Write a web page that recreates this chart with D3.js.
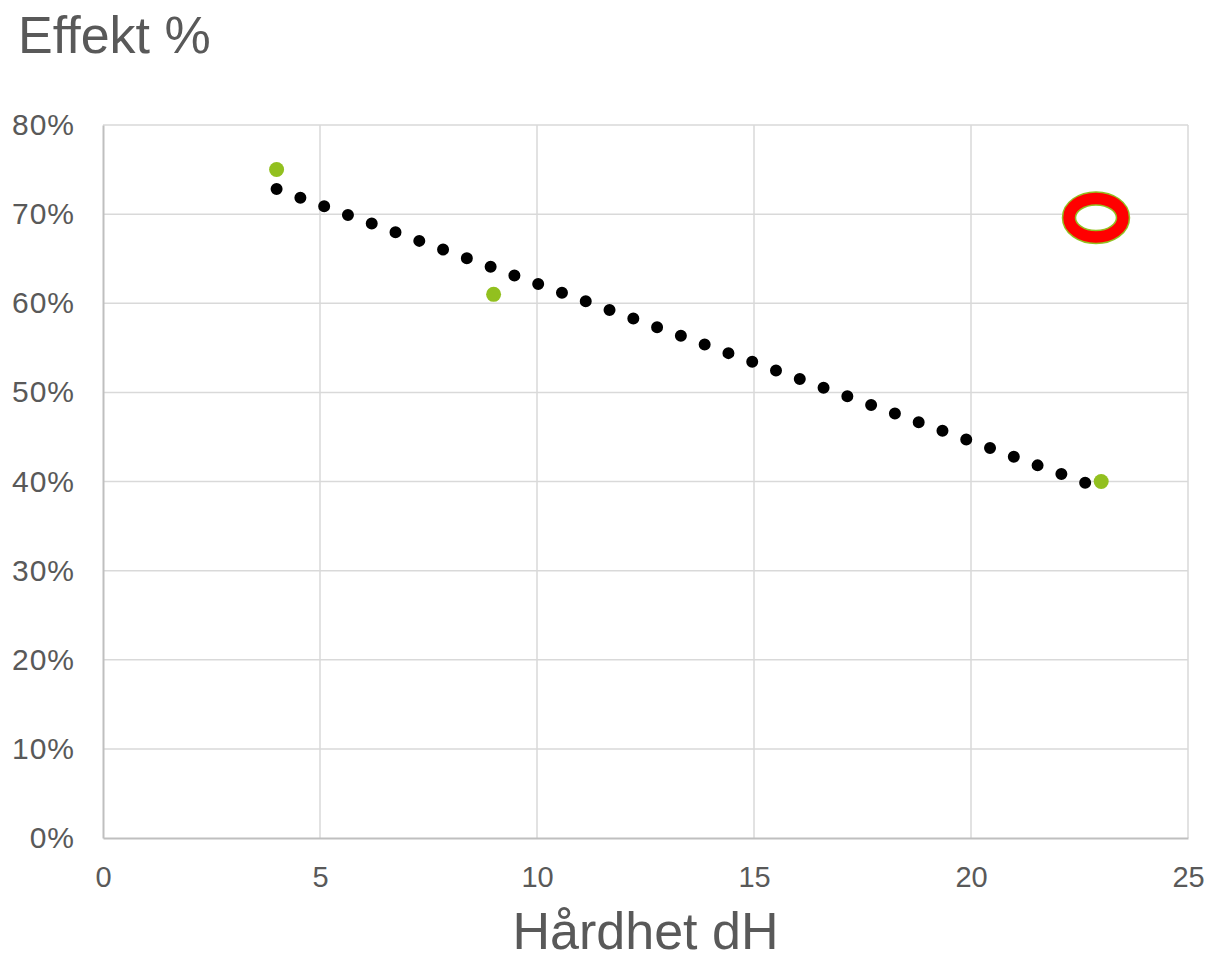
<!DOCTYPE html>
<html>
<head>
<meta charset="utf-8">
<script src="https://cdn.jsdelivr.net/npm/d3@7"></script>
<style>
  body { margin: 0; background: #fff; }
  text { font-family: "Liberation Sans", Arial, sans-serif; fill: #595959; }
</style>
</head>
<body>
<svg id="chart" width="1211" height="957"></svg>
<script>
// data
let hardness = [4, 9, 23];
let effect = [0.75, 0.61, 0.40];
let xTicks = [0, 5, 10, 15, 20, 25];
let yTicks = [0, 0.1, 0.2, 0.3, 0.4, 0.5, 0.6, 0.7, 0.8];
let marker = [22.88, 0.696]; // red ring annotation

let svg = d3.select('#chart');
let x = d3.scaleLinear().domain([0, 25]).range([103, 1188]);
let y = d3.scaleLinear().domain([0, 0.8]).range([838, 125]);

// gridlines
svg.append('g')
    .selectAll('line')
    .data(yTicks.filter(d => d > 0))
    .join('line')
    .attr('x1', x(0)).attr('x2', x(25))
    .attr('y1', d => y(d)).attr('y2', d => y(d))
    .attr('stroke', '#d9d9d9').attr('stroke-width', 1.5);
svg.append('g')
    .selectAll('line')
    .data(xTicks.filter(d => d > 0))
    .join('line')
    .attr('x1', d => x(d)).attr('x2', d => x(d))
    .attr('y1', y(0)).attr('y2', y(0.8))
    .attr('stroke', '#d9d9d9').attr('stroke-width', 1.5);

// axes
let xAxis = svg.append('g')
    .attr('transform', `translate(0,${y(0)})`)
    .call(d3.axisBottom(x).tickValues(xTicks).tickSize(0).tickPadding(28).tickFormat(d3.format('d')));
let yAxis = svg.append('g')
    .attr('transform', `translate(${x(0)},0)`)
    .call(d3.axisLeft(y).tickValues(yTicks).tickSize(0).tickPadding(28).tickFormat(d3.format('.0%')));
[xAxis, yAxis].forEach(a => {
    a.select('.domain').attr('stroke', '#bfbfbf').attr('stroke-width', 2);
    a.selectAll('text').attr('fill', '#595959')
        .style('font-family', '"Liberation Sans", Arial, sans-serif');
});
xAxis.selectAll('text').attr('font-size', 29);
yAxis.selectAll('text').attr('font-size', 30).attr('letter-spacing', 1);

// linear trendline (least squares over the points)
let mx = d3.mean(hardness), my = d3.mean(effect);
let sxy = d3.sum(hardness, (h, i) => (h - mx) * (effect[i] - my));
let sxx = d3.sum(hardness, h => (h - mx) * (h - mx));
let slope = sxy / sxx, icpt = my - slope * mx;
let x0 = d3.min(hardness), x1 = d3.max(hardness);
svg.append('line')
    .attr('x1', x(x0)).attr('y1', y(icpt + slope * x0))
    .attr('x2', x(x1)).attr('y2', y(icpt + slope * x1))
    .attr('stroke', '#000').attr('stroke-width', 12)
    .attr('stroke-linecap', 'round')
    .attr('stroke-dasharray', '0 25.3');

// points
svg.append('g')
    .selectAll('circle')
    .data(hardness)
    .join('circle')
    .attr('cx', d => x(d))
    .attr('cy', (d, i) => y(effect[i]))
    .attr('r', 7.5)
    .attr('fill', '#92c01f');

// red ring
let ring = svg.append('g').attr('transform', `translate(${x(marker[0])},${y(marker[1])})`);
ring.append('ellipse').attr('rx', 27).attr('ry', 19.3)
    .attr('fill', '#fff').attr('stroke', '#92c01f').attr('stroke-width', 14.5);
ring.append('ellipse').attr('rx', 27).attr('ry', 19.3)
    .attr('fill', 'none').attr('stroke', '#ff0000').attr('stroke-width', 11.5);

// titles
svg.append('text').attr('x', 18).attr('y', 53)
    .attr('font-size', 52).text('Effekt %');
svg.append('text').attr('x', (x(0) + x(25)) / 2).attr('y', 949)
    .attr('text-anchor', 'middle').attr('font-size', 52).text('Hårdhet dH');
</script>
</body>
</html>
